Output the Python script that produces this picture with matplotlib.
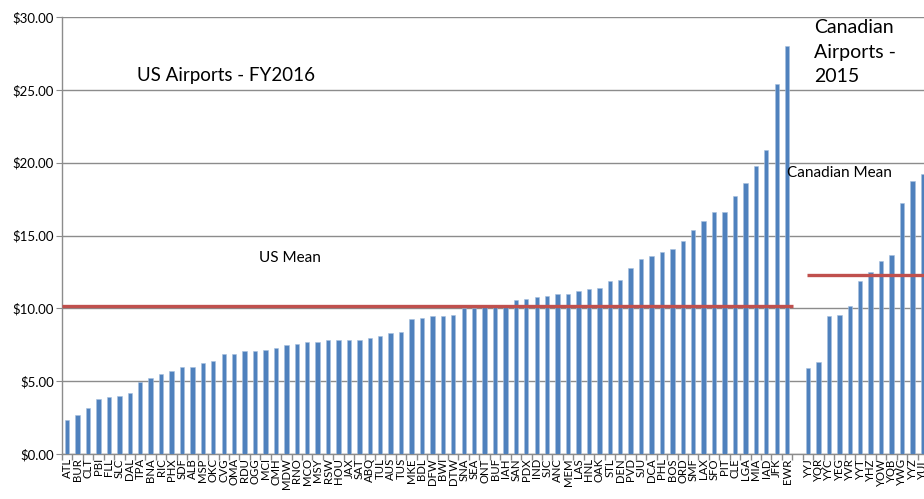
import matplotlib
matplotlib.use('Agg')
import matplotlib.pyplot as plt
import numpy as np
from matplotlib.ticker import FuncFormatter, FixedLocator

plt.rcParams['font.family'] = ['Lato', 'DejaVu Sans']

# --- data ---
us_codes = ['ATL', 'BUR', 'CLT', 'PBI', 'FLL', 'SLC', 'DAL', 'TPA', 'BNA', 'RIC',
            'PHX', 'SDF', 'ALB', 'MSP', 'OKC', 'CVG', 'OMA', 'RDU', 'OGG', 'MCI',
            'CMH', 'MDW', 'RNO', 'MCO', 'MSY', 'RSW', 'HOU', 'JAX', 'SAT', 'ABQ',
            'TUL', 'AUS', 'TUS', 'MKE', 'BDL', 'DFW', 'BWI', 'DTW', 'SNA', 'SEA',
            'ONT', 'BUF', 'IAH', 'SAN', 'PDX', 'IND', 'SJC', 'ANC', 'MEM', 'LAS',
            'HNL', 'OAK', 'STL', 'DEN', 'PVD', 'SJU', 'DCA', 'PHL', 'BOS', 'ORD',
            'SMF', 'LAX', 'SFO', 'PIT', 'CLE', 'LGA', 'MIA', 'IAD', 'JFK', 'EWR']
us_values = [2.36, 2.66, 3.18, 3.75, 3.90, 4.00, 4.22, 4.97, 5.23, 5.50,
             5.68, 5.96, 5.98, 6.23, 6.41, 6.85, 6.87, 7.08, 7.10, 7.17,
             7.26, 7.51, 7.58, 7.67, 7.72, 7.81, 7.82, 7.85, 7.86, 7.97,
             8.11, 8.33, 8.40, 9.29, 9.36, 9.47, 9.48, 9.52, 10.00, 10.03,
             10.06, 10.12, 10.24, 10.57, 10.64, 10.75, 10.82, 10.95, 10.98, 11.19,
             11.32, 11.37, 11.88, 11.94, 12.80, 13.42, 13.61, 13.86, 14.06, 14.59,
             15.39, 16.02, 16.61, 16.64, 17.69, 18.62, 19.77, 20.88, 25.40, 28.00]
ca_codes = ['YYJ', 'YQR', 'YYC', 'YEG', 'YVR', 'YYT', 'YHZ', 'YOW', 'YQB',
            'YWG', 'YYZ', 'YUL']
ca_values = [5.91, 6.32, 9.45, 9.52, 10.13, 11.87, 12.49, 13.28, 13.69,
             17.26, 18.72, 19.20]
us_mean = 10.13
ca_mean = 12.30

codes = us_codes + [''] + ca_codes
values = us_values + [np.nan] + ca_values
x = np.arange(len(codes))
n_us = len(us_codes)

fig = plt.figure(figsize=(9.24, 4.99), dpi=100)
ax = fig.add_axes([62 / 924, 45 / 499, 866 / 924, 437 / 499])

bar_color = '#4F81BD'
ax.bar(x, values, width=0.42, color=bar_color, edgecolor='#A7C0DE', linewidth=0.4, zorder=3)

# mean lines
ax.plot([-0.5, n_us - 0.4], [us_mean, us_mean], color='#C0504D', lw=2.4, zorder=4,
        solid_capstyle='butt')
ax.plot([n_us + 0.9, len(codes) + 1], [ca_mean, ca_mean], color='#C0504D', lw=2.4,
        zorder=4, solid_capstyle='butt')

ax.set_xlim(-0.5, len(codes) - 0.5)
ax.set_ylim(0, 30)
ax.set_yticks(np.arange(0, 31, 5))
ax.yaxis.set_major_formatter(FuncFormatter(lambda v, p: '${:.2f}'.format(v)))
ax.grid(axis='y', color='#8C8C8C', lw=1, zorder=1)

ax.set_xticks(x)
ax.set_xticklabels(codes, rotation=90, fontsize=8.2)
ax.xaxis.set_minor_locator(FixedLocator(np.arange(-0.5, len(codes) + 0.5, 1)))
ax.tick_params(axis='x', which='major', length=0, pad=3)
ax.tick_params(axis='x', which='minor', length=4, color='#8C8C8C', width=1)
ax.tick_params(axis='y', length=4, color='#8C8C8C', labelsize=9.5, pad=2)

for side in ['top', 'right']:
    ax.spines[side].set_visible(False)
for side in ['left', 'bottom']:
    ax.spines[side].set_color('#8C8C8C')
    ax.spines[side].set_linewidth(1)

ax.text(6.7, 26.0, 'US Airports - FY2016', fontsize=13.5, va='center', ha='left')
ax.text(18.4, 13.45, 'US Mean', fontsize=11, va='center', ha='left')
ax.text(71.6, 25.3, 'Canadian\nAirports -\n2015', fontsize=14, va='bottom',
        ha='left', linespacing=1.55)
ax.text(69.0, 19.3, 'Canadian Mean', fontsize=11, va='center', ha='left')

fig.savefig('out.png', dpi=100)
